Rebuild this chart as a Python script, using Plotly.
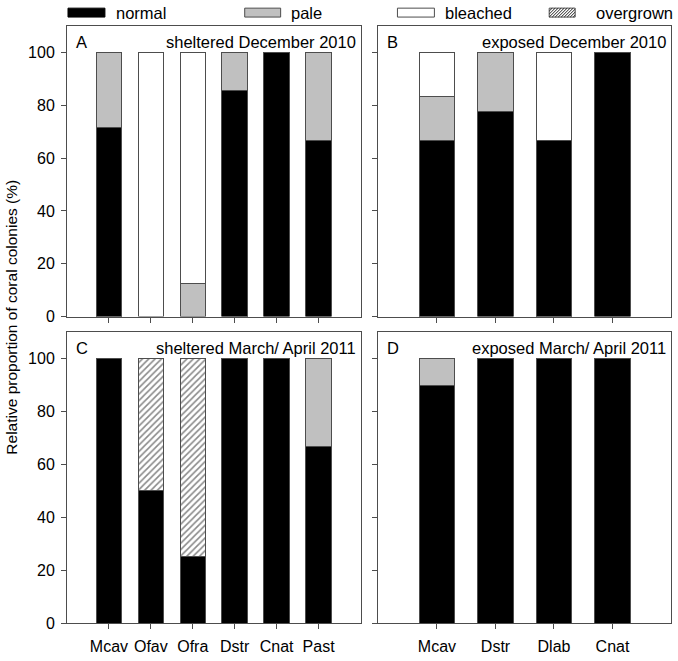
import plotly.graph_objects as go

# ---------------- data ----------------
cats_sheltered = ["Mcav", "Ofav", "Ofra", "Dstr", "Cnat", "Past"]
cats_exposed = ["Mcav", "Dstr", "Dlab", "Cnat"]

# Panel A: sheltered December 2010
A_normal = [71.4, None, None, 85.7, 100, 66.7]
A_pale = [28.6, None, 12.5, 14.3, None, 33.3]
A_bleached = [None, 100, 87.5, None, None, None]
A_overgrown = [None, None, None, None, None, None]

# Panel B: exposed December 2010
B_normal = [66.7, 77.8, 66.7, 100]
B_pale = [16.7, 22.2, None, None]
B_bleached = [16.6, None, 33.3, None]
B_overgrown = [None, None, None, None]

# Panel C: sheltered March/April 2011
C_normal = [100, 50, 25, 100, 100, 66.7]
C_pale = [None, None, None, None, None, 33.3]
C_bleached = [None, None, None, None, None, None]
C_overgrown = [None, 50, 75, None, None, None]

# Panel D: exposed March/April 2011
D_normal = [90, 100, 100, 100]
D_pale = [10, None, None, None]
D_bleached = [None, None, None, None]
D_overgrown = [None, None, None, None]

yticks = [0, 20, 40, 60, 80, 100]
panel_letters = ["A", "B", "C", "D"]
panel_titles = ["sheltered December 2010", "exposed December 2010",
                "sheltered March/ April 2011", "exposed March/ April 2011"]
legend_names = ["normal", "pale", "bleached", "overgrown"]
y_title = "Relative proportion of coral colonies (%)"

# ---------------- layout geometry ----------------
W, H = 678, 661
L, R, T, B = 67, 6, 26, 33
PW, PH = W - L - R, H - T - B


def px(x):
    return (x - L) / PW


def py(y):
    return (H - B - y) / PH


FONT = "Arial, Liberation Sans, sans-serif"
EDGE = "#4d4d4d"

fig = go.Figure()

panels = [
    ("x", "y", cats_sheltered, A_normal, A_pale, A_bleached, A_overgrown),
    ("x2", "y2", cats_exposed, B_normal, B_pale, B_bleached, B_overgrown),
    ("x3", "y3", cats_sheltered, C_normal, C_pale, C_bleached, C_overgrown),
    ("x4", "y4", cats_exposed, D_normal, D_pale, D_bleached, D_overgrown),
]

for xa, ya, cats, nrm, pal, ble, ovg in panels:
    fig.add_trace(go.Bar(x=cats, y=nrm, name="normal", xaxis=xa, yaxis=ya,
                         marker=dict(color="black", line=dict(color=EDGE, width=1)),
                         showlegend=False))
    fig.add_trace(go.Bar(x=cats, y=pal, name="pale", xaxis=xa, yaxis=ya,
                         marker=dict(color="#c0c0c0", line=dict(color=EDGE, width=1)),
                         showlegend=False))
    fig.add_trace(go.Bar(x=cats, y=ble, name="bleached", xaxis=xa, yaxis=ya,
                         marker=dict(color="white", line=dict(color=EDGE, width=1)),
                         showlegend=False))
    fig.add_trace(go.Bar(x=cats, y=ovg, name="overgrown", xaxis=xa, yaxis=ya,
                         marker=dict(color="white", line=dict(color=EDGE, width=1),
                                     pattern=dict(shape="/", fgcolor="#111111", bgcolor="white",
                                                  size=4.5, solidity=0.35)),
                         showlegend=False))

xdom_left = [0, px(361)]
xdom_right = [px(379), 1]
ydom_top = [py(319), 1]
ydom_bot = [0, py(335)]

common_x = dict(showline=True, linecolor=EDGE, linewidth=1, mirror=True,
                ticks="outside", ticklen=5, tickcolor=EDGE, ticklabelstandoff=4,
                tickfont=dict(family=FONT, size=16, color="black"),
                showgrid=False, zeroline=False)
common_y = dict(showline=True, linecolor=EDGE, linewidth=1, mirror=True,
                ticks="outside", ticklen=5, tickcolor=EDGE, ticklabelstandoff=3,
                tickvals=yticks, range=[0, 110],
                tickfont=dict(family=FONT, size=16, color="black"),
                showgrid=False, zeroline=False)

fig.update_layout(
    barmode="stack",
    bargap=0.39,
    width=W, height=H,
    margin=dict(l=L, r=R, t=T, b=B),
    plot_bgcolor="white", paper_bgcolor="white",
    font=dict(family=FONT, size=16, color="black"),
    xaxis=dict(domain=xdom_left, anchor="y", range=[-1, 6], showticklabels=False, **common_x),
    yaxis=dict(domain=ydom_top, anchor="x", **common_y),
    xaxis2=dict(domain=xdom_right, anchor="y2", range=[-1, 4], showticklabels=False, **common_x),
    yaxis2=dict(domain=ydom_top, anchor="x2", showticklabels=False, **common_y),
    xaxis3=dict(domain=xdom_left, anchor="y3", range=[-1, 6], **common_x),
    yaxis3=dict(domain=ydom_bot, anchor="x3", **common_y),
    xaxis4=dict(domain=xdom_right, anchor="y4", range=[-1, 4], **common_x),
    yaxis4=dict(domain=ydom_bot, anchor="x4", showticklabels=False, **common_y),
)

annotations = []
# panel letters and titles
for i, (letter, title) in enumerate(zip(panel_letters, panel_titles)):
    xd = xdom_left if i % 2 == 0 else xdom_right
    yd = ydom_top if i < 2 else ydom_bot
    annotations.append(dict(text=letter, xref="paper", yref="paper",
                            x=xd[0] + 7 / PW, y=yd[1] - 5 / PH,
                            xanchor="left", yanchor="top", showarrow=False,
                            font=dict(family=FONT, size=16.5, color="black")))
    annotations.append(dict(text=title, xref="paper", yref="paper",
                            x=xd[1] - 3 / PW, y=yd[1] - 5 / PH,
                            xanchor="right", yanchor="top", showarrow=False,
                            font=dict(family=FONT, size=16.5, color="black")))

annotations.append(dict(text=y_title, xref="paper", yref="paper",
                        x=px(11), y=py(320), textangle=-90, showarrow=False,
                        xanchor="center", yanchor="middle",
                        font=dict(family=FONT, size=15.5, color="black")))

# legend (manual)
shapes = []
leg_boxes = [(68, 105), (245, 281), (398, 435), (550, 576)]
leg_fill = ["black", "#c0c0c0", "white", "white"]
leg_text_x = [114, 289, 444, 595]
ly0, ly1 = 8, 17
for (x0, x1), fc, tx, name in zip(leg_boxes, leg_fill, leg_text_x, legend_names):
    shapes.append(dict(type="rect", xref="paper", yref="paper",
                       x0=px(x0), x1=px(x1), y0=py(ly1), y1=py(ly0),
                       fillcolor=fc, line=dict(color="black" if fc == "black" else EDGE, width=1)))
    annotations.append(dict(text=name, xref="paper", yref="paper",
                            x=px(tx), y=py(12.5), xanchor="left", yanchor="middle",
                            showarrow=False, font=dict(family=FONT, size=16.5, color="black")))

# hatch lines for overgrown swatch
hx0, hx1 = leg_boxes[3]
hh = ly1 - ly0
d = -hh
while d < (hx1 - hx0):
    sx, sy = hx0 + d, ly1
    ex, ey = hx0 + d + hh, ly0
    if sx < hx0:
        t = (hx0 - sx)
        sx, sy = hx0, ly1 - t
    if ex > hx1:
        t = ex - hx1
        ex, ey = hx1, ly0 + t
    if ex > sx:
        shapes.append(dict(type="line", xref="paper", yref="paper",
                           x0=px(sx), y0=py(sy), x1=px(ex), y1=py(ey),
                           line=dict(color="#222222", width=1)))
    d += 3

fig.update_layout(annotations=annotations, shapes=shapes)

fig.write_html("out.html", post_script="document.body.style.margin='0px';",
               config={"displayModeBar": False})
